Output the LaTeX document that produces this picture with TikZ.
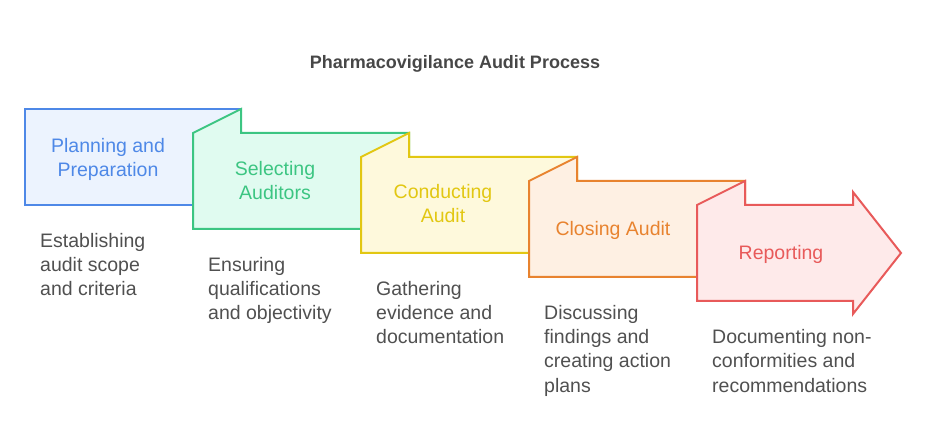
\documentclass[tikz,border=0pt]{standalone}
\usepackage{fontspec}
\setmainfont{Liberation Sans}
\usepackage{tikz}

\definecolor{blueline}{HTML}{4E88E7}
\definecolor{bluefill}{HTML}{ECF3FE}
\definecolor{greenline}{HTML}{3CC582}
\definecolor{greenfill}{HTML}{E0FBF0}
\definecolor{yellowline}{HTML}{E2C712}
\definecolor{yellowfill}{HTML}{FEF9DC}
\definecolor{orangeline}{HTML}{E8832F}
\definecolor{orangefill}{HTML}{FEF0E3}
\definecolor{redline}{HTML}{E85A5A}
\definecolor{redfill}{HTML}{FEEAEA}
\definecolor{desctext}{HTML}{505050}
\definecolor{titletext}{HTML}{474747}

\tikzset{
  sheet/.style={line width=2bp, line join=miter},
  steplabel/.style={align=center, anchor=base, inner sep=0pt,
    font=\fontsize{19.5bp}{24bp}\selectfont},
  stepdesc/.style={align=left, anchor=base west, inner sep=0pt,
    text=desctext, font=\fontsize{19.5bp}{24bp}\selectfont}
}

\begin{document}
\begin{tikzpicture}[x=1bp, y=-1bp]
		\useasboundingbox (0,0) rectangle (927,446);
		\node[anchor=base, inner sep=0pt, text=titletext,
		  font=\fontsize{18bp}{22bp}\selectfont\bfseries] (title) at (455,69)
		  {Pharmacovigilance Audit Process};
		% planning
		\draw[sheet, draw=blueline, fill=bluefill]
		  (25,109) rectangle (241,205);
		% selecting
		\draw[sheet, draw=greenline, fill=greenfill]
		  (193,133) -- (241,109) -- (241,133) -- (409,133)
		  -- (409,229) -- (193,229) -- cycle;
		% conducting
		\draw[sheet, draw=yellowline, fill=yellowfill]
		  (361,157) -- (409,133) -- (409,157) -- (577,157)
		  -- (577,253) -- (361,253) -- cycle;
		% closing
		\draw[sheet, draw=orangeline, fill=orangefill]
		  (529,181) -- (577,157) -- (577,181) -- (745,181)
		  -- (745,277) -- (529,277) -- cycle;
		% reporting
		\draw[sheet, draw=redline, fill=redfill]
		  (697,205) -- (745,181) -- (745,205) -- (853,205)
		  -- (853,192) -- (901,253) -- (853,314) -- (853,301)
		  -- (697,301) -- cycle;
		% labels (base = last line)
		\node[steplabel, text=blueline] (planning) at (108,177)
		  {Planning and\\Preparation};
		\node[steplabel, text=greenline] (selecting) at (275,200)
		  {Selecting\\Auditors};
		\node[steplabel, text=yellowline] (conducting) at (443,223)
		  {Conducting\\Audit};
		\node[steplabel, text=orangeline] (closing) at (613,236)
		  {Closing Audit};
		\node[steplabel, text=redline] (reporting) at (781,260)
		  {Reporting};
		\node[stepdesc] (planningdesc) at (40,296)
		  {Establishing\\audit scope\\and criteria};
		\node[stepdesc] (selectingdesc) at (208,320)
		  {Ensuring\\qualifications\\and objectivity};
		\node[stepdesc] (conductingdesc) at (376,344)
		  {Gathering\\evidence and\\documentation};
		\node[stepdesc] (closingdesc) at (544,392)
		  {Discussing\\findings and\\creating action\\plans};
		\node[stepdesc] (reportingdesc) at (712,392)
		  {Documenting non-\\conformities and\\recommendations};
\end{tikzpicture}
\end{document}
